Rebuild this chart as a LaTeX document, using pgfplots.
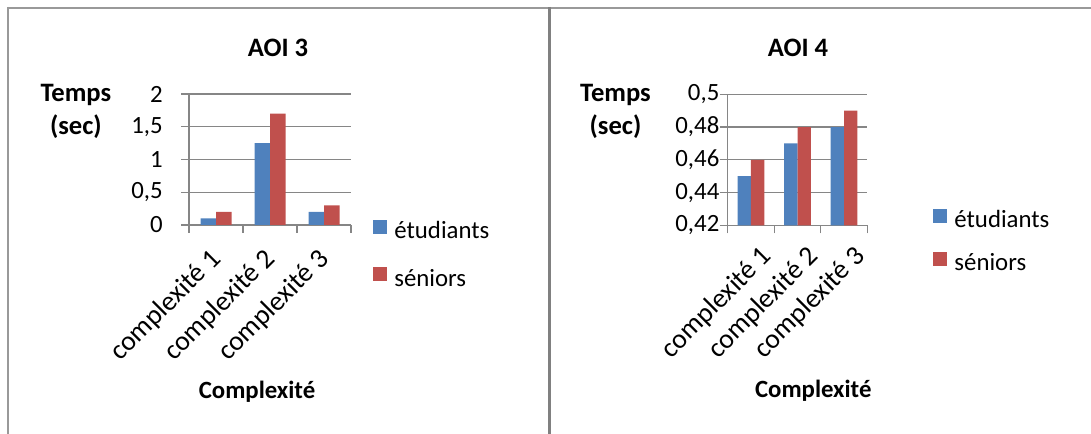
\documentclass[border=0pt]{standalone}
\usepackage{fontspec}
\setmainfont{Carlito}
\usepackage{pgfplots}
\pgfplotsset{compat=1.18}

\definecolor{bleu}{HTML}{4F81BD}
\definecolor{rouge}{HTML}{C0504D}
\definecolor{grille}{HTML}{868686}

\pgfplotsset{
  panneau/.style={
    scale only axis, height=65.5bp,
    ybar=0pt,
    axis x line*=bottom, axis y line*=left,
    axis line style={grille, line width=0.7bp},
    ymajorgrids, grid style={grille, line width=0.7bp},
    xmin=0.5, xmax=3.5,
    xtick={0.5,1.5,2.5,3.5},
    x tick label as interval,
    xticklabels={complexité 1,complexité 2,complexité 3},
    x tick label style={font=\fontsize{13.8bp}{15bp}\selectfont, anchor=east, inner sep=0pt},
    xticklabel shift=11bp,
    tick align=outside, major tick length=4bp,
    tick style={grille, line width=0.7bp},
    y tick label style={anchor=east, inner sep=0pt},
    /pgf/number format/use comma,
    /pgf/number format/assume math mode=true,
    scaled y ticks=false,
    title style={font=\fontsize{13.3bp}{15bp}\selectfont\bfseries, anchor=base},
    xlabel style={font=\bfseries, anchor=base},
    ylabel style={rotate=-90, align=center, anchor=center,
      font=\fontsize{13.3bp}{16.5bp}\selectfont\bfseries},
    legend cell align=left,
    legend image code/.code={\fill[##1] (0bp,-0.5bp) rectangle (7bp,6.5bp);},
    legend style={draw=none, fill=none, inner sep=0pt, anchor=north west,
      nodes={inner sep=0pt, text height=9bp, text depth=3bp},
      column sep=3.5bp},
  }
}

\begin{document}
\fontsize{12.4bp}{15bp}\selectfont
\begin{tikzpicture}
\path[use as bounding box] (0,0) rectangle (545.5bp,217bp);
\draw[line width=1bp, color=black!40] (3.5bp,213bp) -- (545.5bp,213bp);
\draw[line width=1bp, color=black!40] (4bp,213.5bp) -- (4bp,0bp);
\draw[line width=1.5bp, color=black!50] (274.75bp,213.5bp) -- (274.75bp,0bp);

% AOI 3
\begin{axis}[panneau,
  at={(94.5bp,104.5bp)}, anchor=south west, width=81bp,
  bar width=7.75bp,
  ymin=0, ymax=2, ytick={0,0.5,1,1.5,2},
  y tick label style={xshift=-9bp},
  x tick label style={xshift=0.5bp, rotate=45},
  title={AOI 3}, title style={at={(rel axis cs:0.549,1)}, yshift=13bp},
  xlabel={Complexité}, xlabel style={at={(rel axis cs:0.42,0)}, yshift=-86.5bp},
  ylabel={Temps\\(sec)}, ylabel style={at={(rel axis cs:-0.698,0.87)}},
  legend style={at={(rel axis cs:1.136,0.045)}, row sep=11.35bp},
]
\addplot[fill=bleu, draw=none] coordinates {(1,0.1) (2,1.25) (3,0.2)};
\addplot[fill=rouge, draw=none] coordinates {(1,0.2) (2,1.7) (3,0.3)};
\legend{étudiants, séniors}
\end{axis}

% AOI 4
\begin{axis}[panneau,
  at={(363.85bp,104.35bp)}, anchor=south west, width=69.8bp,
  bar width=6.65bp,
  ymin=0.42, ymax=0.5, ytick={0.42,0.44,0.46,0.48,0.5},
  y tick label style={xshift=0bp},
  x tick label style={xshift=8.5bp, yshift=1.5bp, rotate=45},
  title={AOI 4}, title style={at={(rel axis cs:0.504,1)}, yshift=13bp},
  xlabel={Complexité}, xlabel style={at={(rel axis cs:0.613,0)}, yshift=-86.2bp},
  ylabel={Temps\\(sec)}, ylabel style={at={(rel axis cs:-0.804,0.872)}},
  legend style={at={(rel axis cs:1.471,0.13)}, row sep=9bp},
]
\addplot[fill=bleu, draw=none] coordinates {(1,0.45) (2,0.47) (3,0.48)};
\addplot[fill=rouge, draw=none] coordinates {(1,0.46) (2,0.48) (3,0.49)};
\legend{étudiants, séniors}
\end{axis}
\end{tikzpicture}
\end{document}
